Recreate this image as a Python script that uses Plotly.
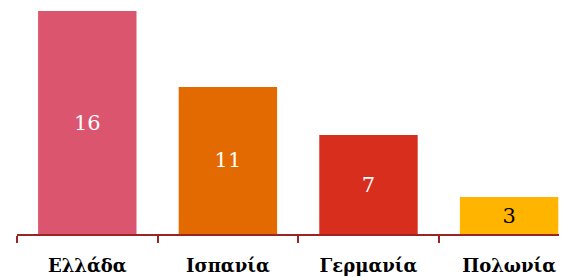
import plotly.graph_objects as go

countries = ["Ελλάδα", "Ισπανία", "Γερμανία", "Πολωνία"]
values = [16.0, 10.55, 7.1, 2.65]
labels = ["16", "11", "7", "3"]
colors = ["#DC556E", "#E36A00", "#D72E1E", "#FFB400"]

fig = go.Figure(go.Bar(
    x=countries, y=values, text=labels,
    marker=dict(color=colors, line=dict(width=0)),
    textposition="inside", insidetextanchor="middle",
    textfont=dict(family="DejaVu Serif", size=21, color=["white", "white", "white", "black"]),
    width=0.7, textangle=0,
))
fig.update_layout(
    width=559, height=269,
    margin=dict(l=8.5, r=0, t=3, b=43),
    paper_bgcolor="white", plot_bgcolor="white",
    showlegend=False,
    xaxis=dict(
        range=[-0.5, 3.412], showline=True, linewidth=2, linecolor="#9A2424",
        ticks="outside", tickson="boundaries", ticklen=7, tickwidth=2, tickcolor="#9A2424",
        tickfont=dict(family="DejaVu Serif", size=18, color="black", weight="bold"),
        ticklabelstandoff=14,
        showgrid=False, zeroline=False,
    ),
    yaxis=dict(range=[0, 16], visible=False, showgrid=False, zeroline=False),
)
fig.write_html("out.html")
